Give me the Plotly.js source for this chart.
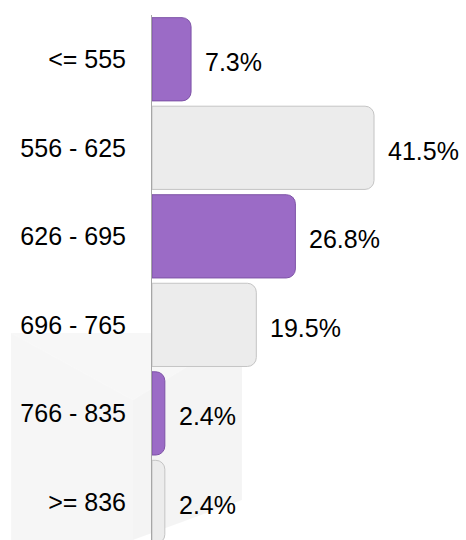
<!DOCTYPE html>
<html>
<head>
<meta charset="utf-8">
<script src="https://cdn.plot.ly/plotly-3.0.1.min.js"></script>
<style>html,body{margin:0;padding:0;background:#fff;}#chart{width:466px;height:540px;}</style>
</head>
<body>
<div id="chart"></div>
<script>
const categories = ["<= 555", "556 - 625", "626 - 695", "696 - 765", "766 - 835", ">= 836"];
const values = [7.3, 41.5, 26.8, 19.5, 2.4, 2.4];
const labels = ["7.3%", "41.5%", "26.8%", "19.5%", "2.4%", "2.4%"];
const barColors = ["#9b6bc6", "#ececec", "#9b6bc6", "#ececec", "#9b6bc6", "#ececec"];
const barLines = ["#7d52a6", "#c4c4c4", "#7d52a6", "#c4c4c4", "#7d52a6", "#c4c4c4"];

const W = 466, H = 540, ML = 152, MR = 0, MT = 15, MB = 0;
const pw = W - ML - MR, ph = H - MT - MB;
function px(x) { return ((x - ML) / pw).toFixed(4); }
function py(y) { return (1 - (y - MT) / ph).toFixed(4); }
function poly(pts) { return "M " + pts.map(p => px(p[0]) + "," + py(p[1])).join(" L ") + " Z"; }

const deco = [
  { pts: [[11,333],[242,333],[133,400]], fill: "rgba(0,0,0,0.03)" },
  { pts: [[11,333],[133,400],[133,540],[11,540]], fill: "rgba(0,0,0,0.035)" },
  { pts: [[133,400],[242,333],[242,500],[133,540]], fill: "rgba(0,0,0,0.045)" }
];
const shapes = deco.map(d => ({
  type: "path", xref: "paper", yref: "paper", layer: "below",
  path: poly(d.pts), fillcolor: d.fill, line: { width: 0 }
}));

const trace = {
  type: "bar",
  orientation: "h",
  x: values,
  y: categories,
  marker: { color: barColors, line: { color: barLines, width: 1 }, cornerradius: 9 },
  width: 0.94,
  hoverinfo: "none",
  cliponaxis: false
};

const annotations = values.map((v, i) => ({
  x: v, y: categories[i], xref: "x", yref: "y",
  text: labels[i], showarrow: false, xanchor: "left", yanchor: "middle",
  xshift: 12, yshift: -3,
  font: { family: "Liberation Sans, Arial, sans-serif", size: 25, color: "#000" }
}));

const layout = {
  width: W, height: H,
  margin: { l: ML, r: MR, t: MT, b: MB, pad: 0 },
  paper_bgcolor: "#ffffff",
  plot_bgcolor: "rgba(0,0,0,0)",
  showlegend: false,
  xaxis: { range: [0, pw / 5.35], visible: false, fixedrange: true },
  yaxis: {
    type: "category",
    range: [5.43, -0.5],
    showline: true, linecolor: "#a6a6a6", linewidth: 1,
    showgrid: false, zeroline: false,
    ticks: "outside", ticklen: 20, tickcolor: "rgba(0,0,0,0)",
    tickfont: { family: "Liberation Sans, Arial, sans-serif", size: 25, color: "#000" }
  },
  shapes: shapes,
  annotations: annotations,
  font: { family: "Liberation Sans, Arial, sans-serif" }
};

Plotly.newPlot("chart", [trace], layout, { displayModeBar: false, staticPlot: true });
</script>
</body>
</html>
